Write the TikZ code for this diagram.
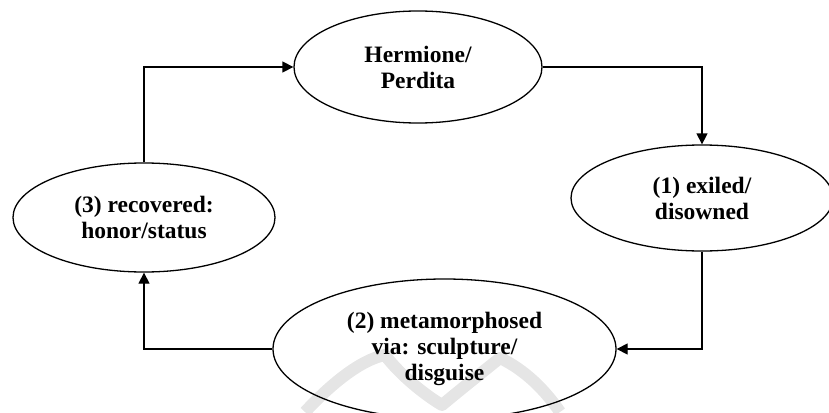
\documentclass[tikz,border=0pt]{standalone}
\usepackage{fontspec}
\setmainfont{Liberation Serif}
\usetikzlibrary{shapes.geometric,arrows.meta}
\tikzset{
  ell/.style={ellipse, draw, line width=1.3pt, inner sep=0pt, align=center,
    font=\bfseries\fontsize{23.5}{26}\selectfont},
  arr/.style={line width=1.3pt, -{Triangle[length=11pt,width=11pt]}},
  wmark/.style={gray!20, line width=12pt, line join=round}
}
\begin{document}
\begin{tikzpicture}[x=1pt,y=-1pt]
\useasboundingbox (0,0) rectangle (829,412);
\draw[wmark] (305,412) .. controls (330,385) and (360,360) .. (385,355)
  .. controls (400,375) and (425,395) .. (442,405)
  .. controls (460,390) and (485,370) .. (500,358)
  .. controls (525,370) and (545,390) .. (560,412);
\node[ell, minimum width=248pt, minimum height=112pt] (h) at (418,67) {Hermione/\\Perdita};
\node[ell, minimum width=262pt, minimum height=106pt] (r1) at (702,198) {(1) exiled/\\disowned};
\node[ell, minimum width=343pt, minimum height=140pt] (r2) at (444.5,349) {(2) metamorphosed\\via: sculpture/\\disguise};
\node[ell, minimum width=262pt, minimum height=109pt] (r3) at (144,217.5) {(3) recovered:\\honor/status};
\draw[arr] (r3.north) |- (h.west);
\draw[arr] (h.east) -| (r1.north);
\draw[arr] (r1.south) |- (r2.east);
\draw[arr] (r2.west) -| (r3.south);
\end{tikzpicture}
\end{document}
